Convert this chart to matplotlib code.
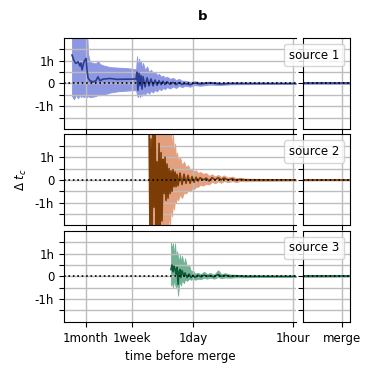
import numpy as np
import matplotlib.pyplot as plt
from matplotlib.ticker import FixedLocator, NullLocator

plt.rcParams['font.size'] = 8.5

# time before merge (hours), offset of t_c (hours): median, lower, upper
t_s1 = [1117, 1049, 985, 924, 867, 840, 813, 763, 716, 694, 672, 631, 574, 522, 490, 459, 418, 334, 268, 207,
        166, 146, 142, 138, 133, 129, 125, 121, 117, 110, 103, 96.9, 90.9, 85.3, 80.0, 75.1, 70.5, 66.2, 62.1,
        58.3, 54.7, 49.7, 45.2, 41.1, 37.4, 34.0, 30.9, 26.3, 22.5, 19.2, 13.9, 10.2, 7.4, 3.9, 1.1, 0.5, -0.15]
med_s1 = [1.25, 1.0, 0.88, 0.96, 0.77, 0.9, 0.6, 0.96, 1.1, 0.6, 0.25, 0.12, 0.07, 0.12, 0.29, 0.12, 0.19, 0.22,
          0.18, 0.19, 0.19, 0.2, 0.5, -0.3, 0.45, -0.1, 0.35, -0.25, 0.3, -0.15, 0.25, -0.1, 0.2, -0.1, 0.15, -0.08,
          0.12, -0.05, 0.1, -0.05, 0.08, -0.04, 0.05, -0.05, 0.04, -0.04, 0.0, -0.05, 0.02, -0.02, 0.02, -0.02, 0.0,
          0.0, 0.0, 0.0, 0.0]
lo_s1 = [-0.55, -0.7, -0.5, -0.65, -0.5, -0.6, -0.55, -0.6, -0.5, -0.6, -0.55, -0.6, -0.58, -0.55, -0.5, -0.52,
         -0.5, -0.4, -0.35, -0.32, -0.3, -0.3, -0.5, -0.6, -0.45, -0.6, -0.4, -0.55, -0.4, -0.5, -0.35, -0.45, -0.32,
         -0.4, -0.28, -0.35, -0.22, -0.3, -0.2, -0.25, -0.16, -0.22, -0.13, -0.2, -0.1, -0.16, -0.1, -0.14, -0.07,
         -0.1, -0.05, -0.07, -0.04, -0.03, -0.02, -0.02, -0.02]
hi_s1 = [2.5, 2.5, 2.5, 2.5, 2.5, 2.5, 2.5, 2.5, 2.5, 2.5, 1.3, 0.95, 0.9, 0.88, 1.0, 0.85, 0.8, 0.72, 0.7, 0.68,
         0.65, 0.62, 1.2, 0.75, 1.1, 0.8, 1.0, 0.65, 0.9, 0.6, 0.75, 0.5, 0.6, 0.45, 0.5, 0.38, 0.42, 0.3, 0.35, 0.25,
         0.3, 0.2, 0.25, 0.15, 0.2, 0.12, 0.12, 0.07, 0.1, 0.06, 0.08, 0.04, 0.04, 0.03, 0.02, 0.02, 0.02]

t_s2 = [96.9, 93.8, 90.9, 88.1, 85.3, 82.6, 80.0, 77.6, 75.1, 72.8, 70.5, 68.3, 66.2, 64.1, 62.1, 60.1, 58.3,
        56.5, 54.7, 53.0, 51.3, 49.7, 48.2, 46.7, 45.2, 43.8, 42.4, 41.1, 39.8, 38.5, 36.2, 34.0, 31.9, 29.9,
        28.1, 26.3, 24.7, 23.2, 21.8, 20.4, 19.2, 17.4, 15.8, 14.4, 13.1, 11.9, 10.8, 9.8, 9.0, 7.9, 6.9, 6.1,
        5.4, 4.6, 3.3, 2.08, 1.1, 0.5, -0.15]
med_s2 = [2.5, -2.5, 1.8, -2.5, 2.5, -1.2, 2.5, -2.5, 0.8, -2.5, 1.6, -2.5, 1.2, -1.8, 0.9, -0.6, 1.0, -0.9, 0.7,
          -0.8, 0.5, -0.6, 0.4, -0.5, 0.45, -0.3, 0.35, -0.3, 0.25, -0.25, 0.3, -0.2, 0.25, -0.15, 0.2, -0.15,
          0.15, -0.1, 0.12, -0.05, 0.1, 0.0, 0.08, -0.05, 0.1, 0.0, 0.1, 0.0, 0.08, 0.0, 0.05, -0.02, 0.02, 0.0,
          0.0, 0.0, 0.0, 0.0, 0.0]
lo_s2 = [-2.5, -2.5, -2.5, -2.5, -2.5, -2.5, -2.5, -2.5, -2.5, -2.5, -2.5, -2.5, -2.5, -2.5, -2.0, -2.5, -1.8,
         -2.5, -1.6, -2.5, -1.4, -2.0, -1.1, -1.6, -1.0, -1.3, -0.85, -1.0, -0.75, -0.9, -0.65, -0.8, -0.55, -0.6,
         -0.45, -0.5, -0.38, -0.4, -0.3, -0.3, -0.22, -0.25, -0.17, -0.2, -0.08, -0.15, -0.06, -0.13, -0.05, -0.1,
         -0.05, -0.1, -0.05, -0.06, -0.05, -0.04, -0.03, -0.02, -0.02]
hi_s2 = [2.5, 2.5, 2.5, 2.5, 2.5, 2.5, 2.5, 2.5, 2.5, 2.5, 2.5, 2.5, 2.5, 2.5, 2.5, 2.2, 2.5, 1.9, 2.5, 1.7, 2.5,
         1.5, 2.5, 1.3, 2.0, 1.1, 1.6, 0.95, 1.2, 0.85, 1.0, 0.65, 0.8, 0.55, 0.65, 0.45, 0.5, 0.38, 0.42, 0.3, 0.35,
         0.27, 0.3, 0.18, 0.25, 0.15, 0.22, 0.13, 0.2, 0.1, 0.15, 0.07, 0.1, 0.06, 0.05, 0.04, 0.03, 0.02, 0.02]

t_s3 = [48.2, 46.7, 45.2, 43.8, 42.4, 41.1, 39.8, 38.5, 37.4, 36.2, 35.1, 34.0, 31.9, 30.9, 29.0, 27.2, 25.5,
        23.9, 22.5, 20.5, 18.6, 16.9, 15.4, 14.0, 12.3, 10.8, 9.8, 8.7, 7.4, 6.1, 4.6, 2.85, 1.1, 0.5, -0.15]
med_s3 = [0.3, 0.5, 0.2, 0.45, 0.3, 0.1, 0.4, -0.35, 0.2, 0.3, -0.05, 0.25, 0.0, 0.15, -0.05, 0.1, -0.05, 0.05,
          -0.05, 0.05, -0.02, 0.05, 0.0, 0.03, -0.02, 0.08, 0.0, 0.04, 0.0, 0.02, 0.0, 0.0, 0.0, 0.0, 0.0]
lo_s3 = [-0.4, -0.25, -0.5, -0.15, -0.35, -0.5, -0.25, -0.85, -0.4, -0.25, -0.4, -0.17, -0.3, -0.12, -0.2, -0.1,
         -0.15, -0.1, -0.15, -0.1, -0.12, -0.06, -0.1, -0.05, -0.1, -0.03, -0.08, -0.05, -0.06, -0.04, -0.04,
         -0.03, -0.02, -0.02, -0.01]
hi_s3 = [1.5, 1.2, 1.45, 0.9, 1.45, 0.75, 1.1, 0.9, 0.6, 0.95, 0.6, 0.9, 0.5, 0.8, 0.4, 0.5, 0.22, 0.25, 0.12,
         0.15, 0.1, 0.2, 0.1, 0.15, 0.07, 0.27, 0.1, 0.14, 0.08, 0.07, 0.04, 0.03, 0.02, 0.02, 0.01]

series = [
    ("source 1", t_s1, med_s1, lo_s1, hi_s1, "#2c3e92", "#8e97e2"),
    ("source 2", t_s2, med_s2, lo_s2, hi_s2, "#7b3d05", "#e3a07f"),
    ("source 3", t_s3, med_s3, lo_s3, hi_s3, "#0b5b37", "#74b296"),
]

tick_hours = [720, 168, 24, 1]
tick_names = ["1month", "1week", "1day", "1hour"]

fig = plt.figure(figsize=(3.74, 3.76), dpi=100)
gs = fig.add_gridspec(3, 2, left=0.171, right=0.936, top=0.899, bottom=0.144,
                      width_ratios=[232, 47], wspace=0.05, hspace=0.06)

axes_l = []
for i, (name, t, med, lo, hi, cl, cf) in enumerate(series):
    axl = fig.add_subplot(gs[i, 0], sharex=axes_l[0] if axes_l else None)
    axr = fig.add_subplot(gs[i, 1])
    axes_l.append(axl)
    t = np.array(t, dtype=float)
    med = np.array(med)
    lo = np.array(lo)
    hi = np.array(hi)
    pos = t > 0
    axl.fill_between(t[pos], lo[pos], hi[pos], color=cf, lw=0.6)
    axl.plot(t[pos], med[pos], color=cl, lw=1.2)
    sel = t <= 2
    axr.fill_between(t[sel], lo[sel], hi[sel], color=cf, lw=0.6)
    axr.plot(t[sel], med[sel], color=cl, lw=1.2)

    axl.set_xscale("log")
    axl.set_xlim(1442, 0.91)
    axr.set_xlim(0.9, -0.18)
    for ax in (axl, axr):
        ax.axhline(0, color="k", ls=":", lw=1.2, zorder=3)
        ax.set_ylim(-2, 2)
        ax.yaxis.set_major_locator(FixedLocator([-1, 0, 1]))
        ax.yaxis.set_minor_locator(FixedLocator([-1.5, -0.5, 0.5, 1.5]))
        ax.tick_params(which="both", length=3.5, width=0.8)
        ax.grid(True, which="both", axis="y", color="#bdbdbd", lw=1.0)
        ax.grid(True, which="major", axis="x", color="#bdbdbd", lw=1.0)
    axl.xaxis.set_major_locator(FixedLocator(tick_hours))
    axl.xaxis.set_minor_locator(NullLocator())
    axl.set_yticklabels(["-1h", "0", "1h"])
    axr.set_yticklabels([])
    axr.xaxis.set_major_locator(FixedLocator([0]))
    axl.spines["right"].set_visible(False)
    if i < 2:
        axl.tick_params(axis="x", labelbottom=False)
        axr.tick_params(axis="x", labelbottom=False)
    else:
        axl.set_xticklabels(tick_names)
        axr.set_xticklabels(["merge"])
        axl.set_xlabel("time before merge")
    if i == 1:
        axl.set_ylabel(r"$\Delta\ t_c$")
    axr.legend(handles=[plt.Line2D([], [], ls="none")], labels=[name], loc="upper right",
               handlelength=0, handletextpad=0)

fig.text(0.543, 0.955, "b", weight="bold", ha="center", va="center", fontsize=9.5)

fig.savefig("out.png", dpi=100)
